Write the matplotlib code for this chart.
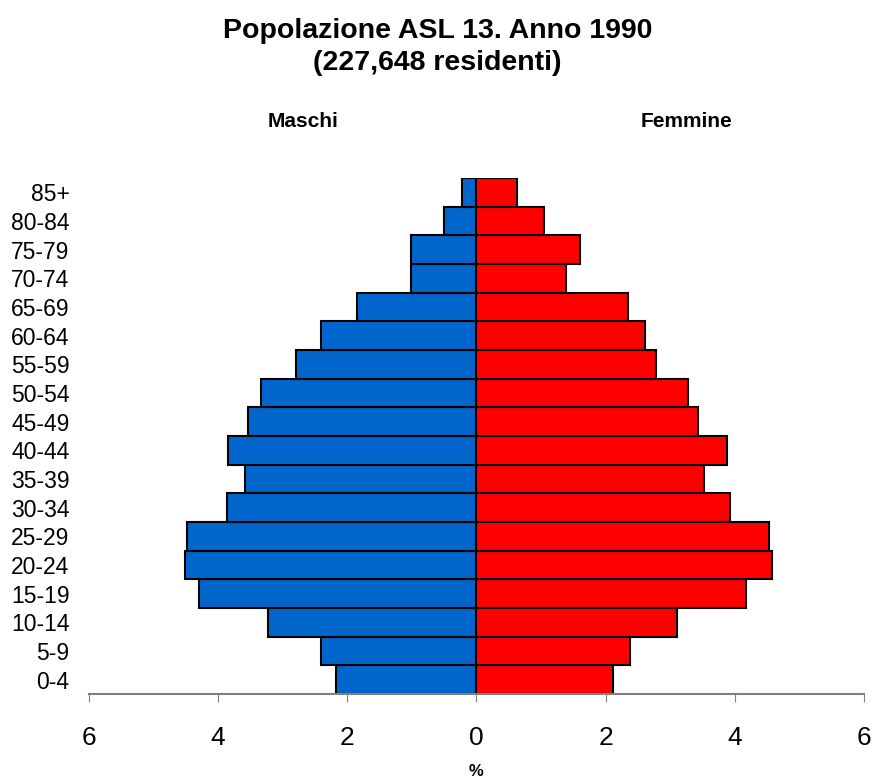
import numpy as np
import matplotlib.pyplot as plt

plt.rcParams['font.family'] = ['Liberation Sans', 'DejaVu Sans']

# fasce d'eta' (dal basso verso l'alto)
age_groups = ['0-4', '5-9', '10-14', '15-19', '20-24', '25-29', '30-34', '35-39',
              '40-44', '45-49', '50-54', '55-59', '60-64', '65-69', '70-74',
              '75-79', '80-84', '85+']
maschi = [2.17, 2.40, 3.23, 4.29, 4.51, 4.48, 3.86, 3.59, 3.84,
          3.54, 3.33, 2.79, 2.40, 1.85, 1.02, 1.02, 0.50, 0.23]
femmine = [2.11, 2.38, 3.11, 4.18, 4.58, 4.53, 3.92, 3.53, 3.88,
           3.43, 3.28, 2.78, 2.61, 2.34, 1.39, 1.61, 1.04, 0.62]
xticks = [-6, -4, -2, 0, 2, 4, 6]

y = np.arange(len(age_groups))

fig = plt.figure(figsize=(8.75, 7.83), dpi=100)
ax = fig.add_axes([0.1017, 0.1137, 0.8857, 0.659])

ax.barh(y, -np.array(maschi), height=1.0, color='#0066CC', edgecolor='black', linewidth=1.5)
ax.barh(y, femmine, height=1.0, color='#FF0000', edgecolor='black', linewidth=1.5)

ax.set_xlim(-6, 6)
ax.set_ylim(-0.5, len(age_groups) - 0.5)
ax.set_yticks(y)
ax.set_yticklabels(age_groups, fontsize=16.5)
ax.set_xticks(xticks)
ax.set_xticklabels([str(abs(t)) for t in xticks], fontsize=19)
ax.tick_params(axis='y', length=0, pad=14)
ax.tick_params(axis='x', direction='out', length=6, color='#808080', pad=17)

for s in ['top', 'right', 'left']:
    ax.spines[s].set_visible(False)
ax.spines['bottom'].set_color('#808080')
ax.spines['bottom'].set_linewidth(1.5)

ax.set_xlabel('%', fontsize=12, fontweight='bold', labelpad=10)

fig.text(0.5, 0.94, 'Popolazione ASL 13. Anno 1990\n(227,648 residenti)',
         ha='center', va='center', fontsize=20.5, fontweight='bold', linespacing=1.28)
fig.text(0.346, 0.845, 'Maschi', ha='center', va='center', fontsize=15, fontweight='bold')
fig.text(0.785, 0.845, 'Femmine', ha='center', va='center', fontsize=15, fontweight='bold')

plt.savefig('out.png', dpi=100)
